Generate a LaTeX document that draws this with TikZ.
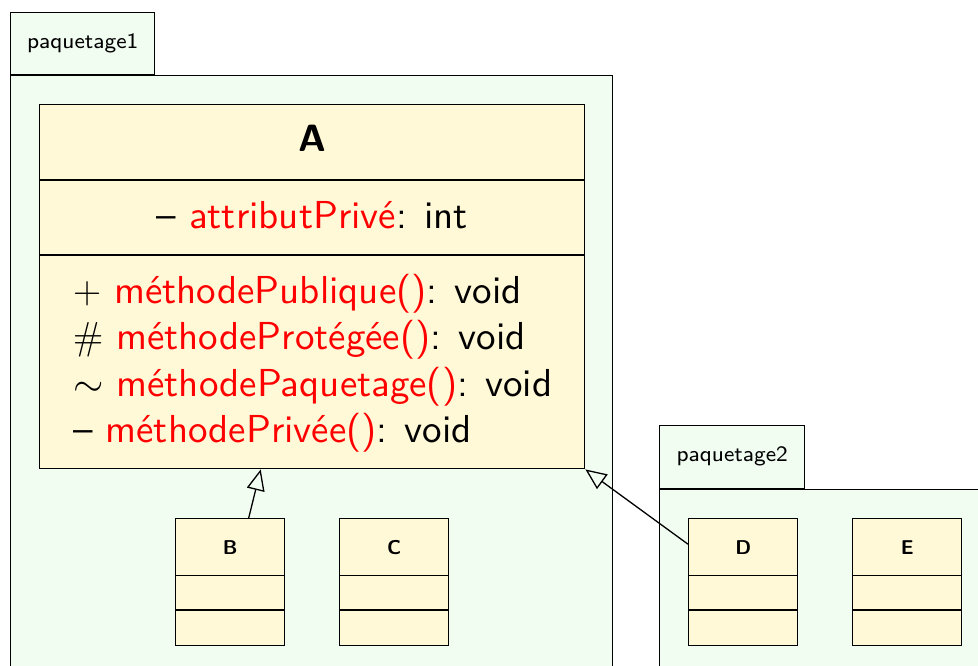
\RequirePackage{fix-cm}
\documentclass[tikz,border=0pt]{standalone}
\usepackage{fontspec}
\usepackage{graphicx}
\usetikzlibrary{arrows.meta}

% Latin Modern Sans with the 10pt and 8pt designs at every size
\setsansfont{lmsans10-regular.otf}[BoldFont=lmsans10-bold.otf]
\newfontfamily\pkgfont{lmsans8-regular.otf}

\definecolor{pkgfill}{RGB}{242,253,242}
\definecolor{classfill}{RGB}{255,249,216}
\definecolor{opred}{RGB}{255,0,0}

\tikzset{
  pkgbox/.style={draw=black, fill=pkgfill, line width=1.4pt, inner sep=0pt},
  pkglabel/.style={font=\pkgfont\fontsize{22}{26}\selectfont, inner sep=0pt},
  classbox/.style={draw=black, fill=classfill, line width=1.4pt, inner sep=0pt},
  compartment/.style={line width=1.4pt},
  classname/.style={font=\sffamily\bfseries\fontsize{38}{44}\selectfont, inner sep=0pt},
  smallname/.style={font=\sffamily\bfseries\fontsize{20}{24}\selectfont, inner sep=0pt},
  member/.style={font=\sffamily\fontsize{39}{46}\selectfont, inner sep=0pt},
  generalisation/.style={-{Triangle[open, length=21pt, width=18pt]}, line width=1.3pt},
}

% member name in red
\newcommand{\mname}[1]{\textcolor{opred}{#1}}

\begin{document}
\begin{tikzpicture}[x=1pt, y=1pt]
  \clip (0,0) rectangle (978,-666);

  % package paquetage1
  \node[pkgbox, anchor=north west, minimum width=602pt, minimum height=650pt] (p1) at (10,-75) {};
  \node[pkgbox, anchor=south west, minimum width=144pt, minimum height=62pt] (p1tab) at (p1.north west) {};
  \node[pkglabel] (p1label) at (p1tab.center) {paquetage1};

  % package paquetage2
  \node[pkgbox, anchor=north west, minimum width=400pt, minimum height=300pt] (p2) at (659,-489) {};
  \node[pkgbox, anchor=south west, minimum width=145pt, minimum height=63pt] (p2tab) at (p2.north west) {};
  \node[pkglabel] (p2label) at (p2tab.center) {paquetage2};

  % class A
  \node[classbox, anchor=north west, minimum width=545pt, minimum height=364pt] (A) at (39,-104) {};
  \draw[compartment] ([yshift=-76pt]A.north west) -- ([yshift=-76pt]A.north east);
  \draw[compartment] ([yshift=-151pt]A.north west) -- ([yshift=-151pt]A.north east);
  \node[classname, anchor=base] (Aname) at ([yshift=-48pt]A.north) {A};
  \node[member, anchor=base] (Aattr) at ([yshift=-125pt]A.north) {-- \mname{attributPrivé}: int};
  \node[member, anchor=base west] (Aop1) at ([xshift=34pt, yshift=-199pt]A.north west) {$+$ \mname{méthodePublique()}: void};
  \node[member, anchor=base west] (Aop2) at ([xshift=34pt, yshift=-245pt]A.north west) {$\#$ \mname{méthodeProtégée()}: void};
  \node[member, anchor=base west] (Aop3) at ([xshift=34pt, yshift=-292pt]A.north west) {$\sim$ \mname{méthodePaquetage()}: void};
  \node[member, anchor=base west] (Aop4) at ([xshift=34pt, yshift=-338pt]A.north west) {-- \mname{méthodePrivée()}: void};

  % classes B, C, D, E
  \foreach \cname/\cx in {B/175, C/339, D/688, E/852} {
    \node[classbox, anchor=north west, minimum width=109pt, minimum height=127pt] (\cname) at (\cx,-518) {};
    \node[classbox, anchor=north west, minimum width=109pt, minimum height=57pt] (\cname title) at (\cname.north west) {};
    \draw[compartment] ([yshift=-92pt]\cname.north west) -- ([yshift=-92pt]\cname.north east);
    \node[smallname] (\cname label) at (\cname title.center) {\cname};
  }

  % generalisations
  \draw[generalisation] ([xshift=18.5pt]B.north) -- ([xshift=-51.5pt]A.south);
  \draw[generalisation] ([yshift=3pt]Dtitle.west) -- (A.south east);
\end{tikzpicture}
\end{document}
